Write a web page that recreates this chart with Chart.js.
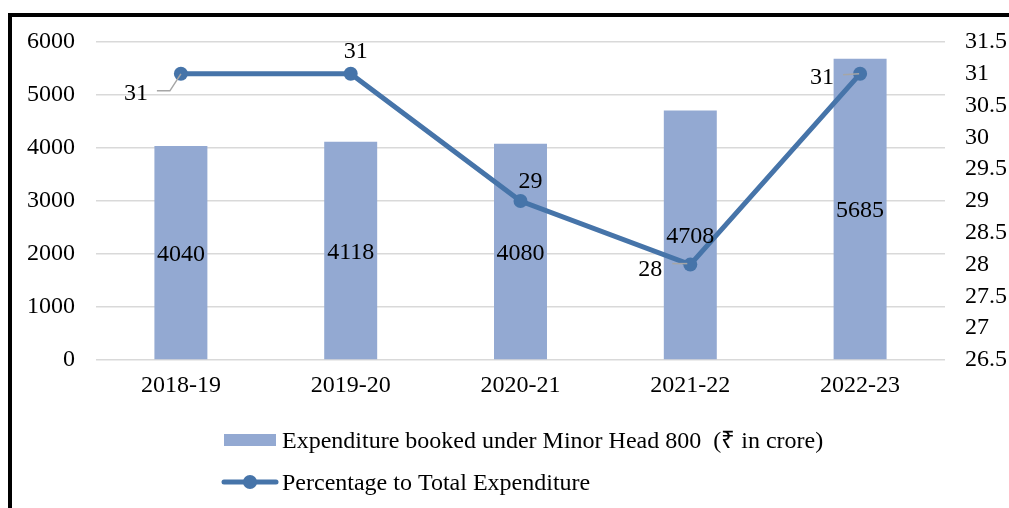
<!DOCTYPE html>
<html>
<head>
<meta charset="utf-8">
<script src="https://cdn.jsdelivr.net/npm/chart.js@4.4.0/dist/chart.umd.min.js"></script>
<style>
  html, body { margin: 0; padding: 0; background: #fff; }
  #frame {
    position: absolute; left: 8px; top: 13px;
    width: 997px; height: 491px;
    border-top: 4px solid #000; border-left: 4px solid #000;
  }
  canvas { display: block; }
</style>
</head>
<body>
<div id="frame"><canvas id="chart" width="997" height="491"></canvas></div>
<script>
// ── Data ─────────────────────────────────────────────────────
const years = ["2018-19", "2019-20", "2020-21", "2021-22", "2022-23"];
const expenditure = [4040, 4118, 4080, 4708, 5685];
const percentage = [31, 31, 29, 28, 31];
const expLabel = "Expenditure booked under Minor Head 800  (\u20B9 in crore)";
const pctLabel = "Percentage to Total Expenditure";

const BAR_COLOR = "#93a9d2";
const LINE_COLOR = "#4674a9";
const FONT = "'Liberation Serif', 'Times New Roman', serif";
const FONT_SIZE = 24;
const TEXT_SHIFT = 2; // canvas "middle" sits a touch high for this serif

// where each percentage label sits relative to its point, plus optional leader line
const pctLabelPos = [
  { dx: -45, dy: 18, leader: [[-24, 17], [-11, 17], [0, 0]] },
  { dx: 5, dy: -24 },
  { dx: 10, dy: -21 },
  { dx: -40, dy: 3, leader: [[-18, -1], [-3, -1]] },
  { dx: -38, dy: 2, leader: [[-17, 1], [-1, 0]] }
];

/* ── Data labels + legend ─────────────────────────────────── */
const labelsPlugin = {
  id: "labels",
  afterDatasetsDraw(chart) {
    const ctx = chart.ctx;
    ctx.save();
    ctx.font = FONT_SIZE + "px " + FONT;
    ctx.fillStyle = "#000";
    ctx.textAlign = "center";
    ctx.textBaseline = "middle";

    // bar values in middle of bars
    const barMeta = chart.getDatasetMeta(1);
    barMeta.data.forEach((el, i) => {
      ctx.fillText(String(expenditure[i]), el.x, (el.y + el.base) / 2 + TEXT_SHIFT);
    });

    // percentage labels
    const lineMeta = chart.getDatasetMeta(0);
    lineMeta.data.forEach((pt, i) => {
      const p = pctLabelPos[i];
      if (p.leader) {
        ctx.strokeStyle = "#a6a6a6";
        ctx.lineWidth = 1.5;
        ctx.beginPath();
        p.leader.forEach((q, k) => {
          if (k === 0) ctx.moveTo(pt.x + q[0], pt.y + q[1]);
          else ctx.lineTo(pt.x + q[0], pt.y + q[1]);
        });
        ctx.stroke();
      }
      ctx.fillText(String(percentage[i]), pt.x + p.dx, pt.y + p.dy + TEXT_SHIFT);
    });
    ctx.restore();
  },
  afterDraw(chart) {
    const ctx = chart.ctx;
    ctx.save();
    ctx.font = FONT_SIZE + "px " + FONT;
    ctx.textAlign = "left";
    ctx.textBaseline = "middle";

    // bar entry
    ctx.fillStyle = BAR_COLOR;
    ctx.fillRect(212, 417, 52, 12);
    ctx.fillStyle = "#000";
    ctx.fillText(expLabel, 270, 423 + TEXT_SHIFT);

    // line entry
    ctx.strokeStyle = LINE_COLOR;
    ctx.lineWidth = 5;
    ctx.lineCap = "round";
    ctx.beginPath();
    ctx.moveTo(212, 465);
    ctx.lineTo(264, 465);
    ctx.stroke();
    ctx.fillStyle = LINE_COLOR;
    ctx.beginPath();
    ctx.arc(238, 465, 7, 0, Math.PI * 2);
    ctx.fill();
    ctx.fillStyle = "#000";
    ctx.fillText(pctLabel, 270, 465 + TEXT_SHIFT);
    ctx.restore();
  }
};

const plain = v => String(v);
// fixed axis box, small overhang so layout padding decides the plot top
const fitY = w => s => { s.width = w; s.paddingTop = 8; s.paddingBottom = 8; };

/* ── Chart ────────────────────────────────────────────────── */
new Chart(document.getElementById("chart"), {
  data: {
    labels: years,
    datasets: [
      {
        type: "line", label: pctLabel, data: percentage, yAxisID: "y2", order: 1,
        borderColor: LINE_COLOR, backgroundColor: LINE_COLOR, borderWidth: 5,
        pointRadius: 7, pointBackgroundColor: LINE_COLOR, pointBorderWidth: 0, tension: 0
      },
      {
        type: "bar", label: expLabel, data: expenditure, yAxisID: "y", order: 2,
        backgroundColor: BAR_COLOR, barPercentage: 0.312, categoryPercentage: 1
      }
    ]
  },
  options: {
    responsive: false,
    animation: false,
    layout: { padding: { top: 25, bottom: 98, left: 0, right: 0 } },
    plugins: { legend: { display: false }, tooltip: { enabled: false } },
    scales: {
      x: {
        offset: true,
        grid: { display: false },
        border: { display: false },
        ticks: { color: "#000", font: { size: FONT_SIZE, family: FONT }, padding: 3, maxRotation: 0 },
        afterFit: s => { s.height = 50; }
      },
      y: {
        position: "left", min: 0, max: 6000,
        ticks: { stepSize: 1000, color: "#000", font: { size: FONT_SIZE, family: FONT }, padding: 21, callback: plain },
        grid: { color: "#d9d9d9", lineWidth: 1.5, drawTicks: false },
        border: { display: false },
        afterFit: fitY(84)
      },
      y2: {
        position: "right", min: 26.5, max: 31.5,
        ticks: { stepSize: 0.5, autoSkip: false, color: "#000", font: { size: FONT_SIZE, family: FONT }, padding: 20, callback: plain },
        grid: { display: false, drawTicks: false },
        border: { display: false },
        afterFit: fitY(64)
      }
    }
  },
  plugins: [labelsPlugin]
});
</script>
</body>
</html>
